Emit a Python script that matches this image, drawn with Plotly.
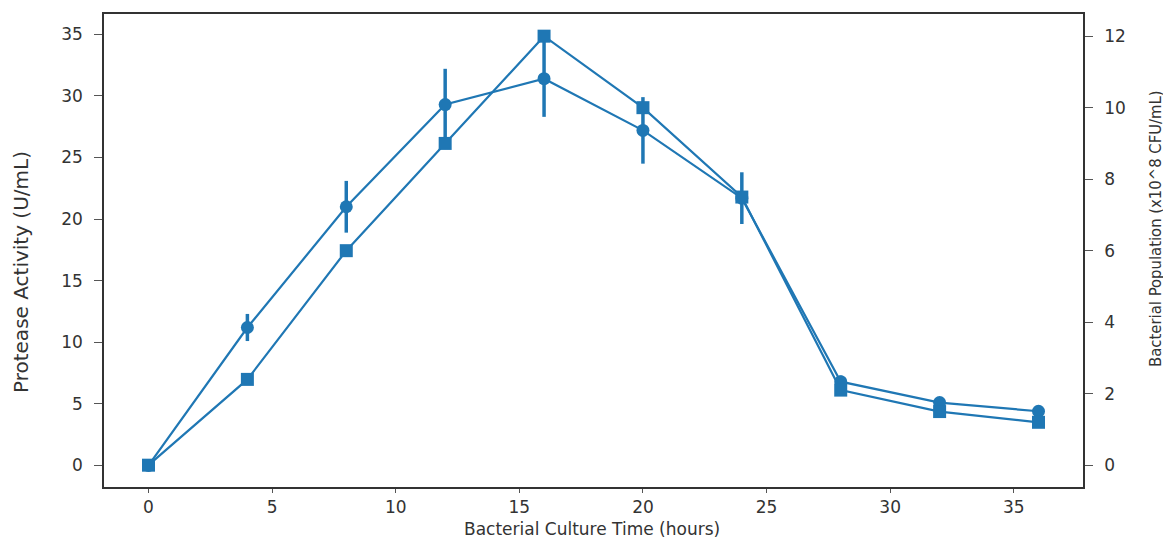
import plotly.graph_objects as go

time_h = [0, 4, 8, 12, 16, 20, 24, 28, 32, 36]
protease = [0.0, 11.2, 21.0, 29.3, 31.4, 27.2, 21.7, 6.8, 5.1, 4.4]
protease_err = [0.0, 1.1, 2.1, 2.9, 3.1, 2.7, 2.1, 0.5, 0.4, 0.3]
population = [0.0, 2.4, 6.0, 9.0, 12.0, 10.0, 7.5, 2.1, 1.5, 1.2]

C0 = "#1f77b4"
TXT = "#333333"
tick_font = dict(family="DejaVu Sans", size=17, color=TXT)

fig = go.Figure()
fig.add_trace(go.Scatter(
    x=time_h, y=protease, mode="lines+markers", name="Protease Activity",
    line=dict(color=C0, width=2.2),
    marker=dict(symbol="circle", size=13, color=C0),
    error_y=dict(type="data", array=protease_err, visible=True,
                 color=C0, thickness=3.5, width=0),
    yaxis="y",
))
fig.add_trace(go.Scatter(
    x=time_h, y=population, mode="lines+markers", name="Bacterial Population",
    line=dict(color=C0, width=2.2),
    marker=dict(symbol="square", size=13, color=C0),
    yaxis="y2",
))

axis_common = dict(showgrid=False, zeroline=False, showline=True, linecolor="#333333",
                   linewidth=1.5, ticks="outside", tickcolor="#555555",
                   tickfont=tick_font, automargin=False)

fig.update_layout(
    width=1163, height=532,
    paper_bgcolor="white", plot_bgcolor="white",
    margin=dict(l=96, r=88, t=6, b=53),
    showlegend=False,
    xaxis=dict(range=[-1.8, 37.8], dtick=5, tick0=0, mirror=True, ticklen=4,
               **axis_common),
    yaxis=dict(range=[-1.75, 36.65], dtick=5, tick0=0, ticklen=8, ticklabelstandoff=8,
               **axis_common),
    yaxis2=dict(range=[-0.61, 12.62], dtick=2, tick0=0, overlaying="y", side="right",
                ticklen=8, ticklabelstandoff=8, **axis_common),
    annotations=[
        dict(text="Bacterial Culture Time (hours)", xref="paper", yref="paper",
             x=0.4985, y=-0.0888, xanchor="center", yanchor="middle", showarrow=False,
             font=dict(family="DejaVu Sans", size=17, color=TXT)),
        dict(text="Protease Activity (U/mL)", textangle=-90, xref="paper", yref="paper",
             x=-0.0848, y=0.4545, xanchor="center", yanchor="middle", showarrow=False,
             font=dict(family="DejaVu Sans", size=20, color=TXT)),
        dict(text="Bacterial Population (x10^8 CFU/mL)", textangle=-90, xref="paper", yref="paper",
             x=1.0745, y=0.5476, xanchor="center", yanchor="middle", showarrow=False,
             font=dict(family="DejaVu Sans Condensed, DejaVu Sans", size=16.5, color=TXT)),
    ],
)

fig.write_html("out.html")
